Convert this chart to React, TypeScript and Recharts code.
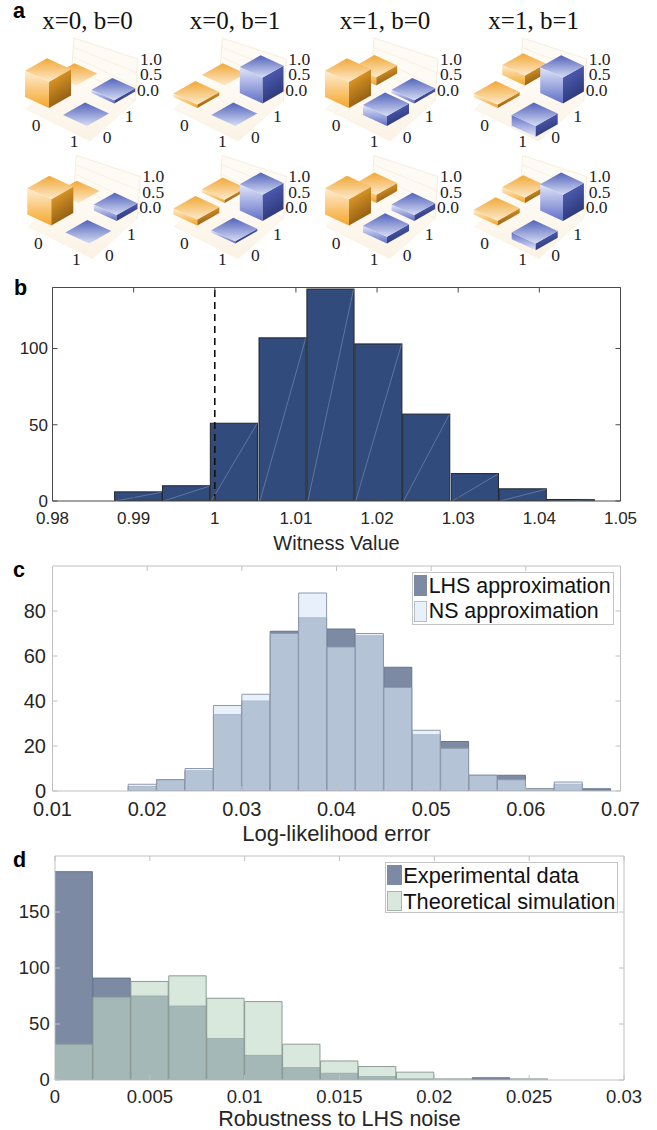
import React from "react";
import {
  ComposedChart,
  ScatterChart,
  Scatter,
  Bar,
  XAxis,
  YAxis,
  ReferenceLine,
} from "recharts";

// ---------- panel a ----------
const panelTitles = ["x=0, b=0", "x=0, b=1", "x=1, b=0", "x=1, b=1"];
// each cell list is ordered as [00, 01, 10, 11]
const topRowCells = [
  [0.97, 0, 0, 0.12],
  [0.13, 0, 0, 0.96],
  [0.97, 0.3, 0.37, 0.12],
  [0.13, 0.37, -0.4, 0.96],
];
const bottomRowCells = [
  [0.97, 0, 0, 0.22],
  [0.22, 0.12, 0.08, 0.97],
  [0.97, 0.3, 0.25, 0.22],
  [0.18, 0.2, -0.25, 0.97],
];
const zTickLabels = ["1.0", "0.5", "0.0"];
const cellLabels = ["0", "1"];

// ---------- panel b ----------
const witnessCenters = [0.9906, 0.9965, 1.0024, 1.0084, 1.0143, 1.0202, 1.0261, 1.0321, 1.038, 1.0439];
const witnessCounts = [6, 10, 51, 107, 139, 103, 57, 18, 8, 1];
const witnessTicks = [0.98, 0.99, 1, 1.01, 1.02, 1.03, 1.04, 1.05];
const witnessYTicks = [0, 50, 100];

// ---------- panel c ----------
const errorCenters = [0.0195, 0.0225, 0.0255, 0.0285, 0.0315, 0.0345, 0.0375, 0.0405, 0.0435, 0.0465, 0.0495, 0.0525, 0.0555, 0.0585, 0.0615, 0.0645, 0.0675];
const lhsCounts = [2, 5, 9, 34, 40, 71, 77, 72, 69, 55, 25, 22, 7, 7, 1, 3, 1];
const nsCounts = [3, 5, 10, 38, 43, 70, 88, 64, 70, 46, 27, 19, 7, 5, 1, 4, 0];
const errorTicks = [0.01, 0.02, 0.03, 0.04, 0.05, 0.06, 0.07];
const errorYTicks = [0, 20, 40, 60, 80];

// ---------- panel d ----------
const noiseCenters = [0.001, 0.003, 0.005, 0.007, 0.009, 0.011, 0.013, 0.015, 0.017, 0.019, 0.021, 0.023, 0.025];
const experimentCounts = [186, 91, 75, 66, 37, 22, 11, 6, 3, 1, 0, 2, 0];
const simulationCounts = [32, 74, 88, 93, 73, 70, 32, 17, 12, 7, 1, 0, 1];
const noiseTicks = [0, 0.005, 0.01, 0.015, 0.02, 0.025, 0.03];
const noiseYTicks = [0, 50, 100, 150];

const SANS = "'Liberation Sans', Arial, sans-serif";
const SERIF = "'Liberation Serif', 'Times New Roman', serif";
const W = 657;

// ---------- 3D drawing for panel a ----------
const PX_PER_UNIT = 27;
const colOrigin = [
  [25, 173.3, 325, 473.7],
  [27.3, 173.3, 325, 473.7],
];
const rowBase = [97, 214.5];
const titleCenters = [87.5, 235, 385, 533.7];
const stepI = [38, 18];
const stepJ = [28.5, -22];
const drawOrder = [1, 3, 0, 2];

const frameData = [topRowCells, bottomRowCells].flatMap((_, row) =>
  panelTitles.map((title, col) => ({
    gx: colOrigin[row][col],
    gy: rowBase[row],
    title: row === 0 ? title : "",
    titleX: titleCenters[col],
  }))
);

const cellData = [topRowCells, bottomRowCells].flatMap((rows, row) =>
  rows.flatMap((cells, col) =>
    drawOrder.map((k) => {
      const i = k >> 1;
      const j = k & 1;
      return {
        gx: colOrigin[row][col] + i * stepI[0] + j * stepJ[0],
        gy: rowBase[row] + i * stepI[1] + j * stepJ[1],
        h: cells[k],
        orange: i === 0,
        far: j === 1,
      };
    })
  )
);

const poly = (pts: number[][]) => pts.map((p) => p.join(",")).join(" ");

const FrameShape = (props: any) => {
  const { cx, cy, payload } = props;
  const at = (dx: number, dy: number) => [cx + dx, cy + dy];
  const wallA = at(49, -59), wallB = at(113, -38), wallC = at(110, 4), wallD = at(47, -31);
  const fL = at(1, 12), fF = at(65, 44), fR = at(110, 4), fB = at(47, -31);
  const numStyle: any = { fontFamily: SERIF, fontSize: 17.5, fill: "#222" };
  return (
    <g>
      <polygon points={poly([wallA, wallB, wallC, wallD])} fill="#fefaf4" stroke="#f5e8d4" strokeWidth={0.8} />
      {[0.33, 0.66].map((t) => (
        <line
          key={t}
          x1={wallA[0] + (wallD[0] - wallA[0]) * t}
          y1={wallA[1] + (wallD[1] - wallA[1]) * t}
          x2={wallB[0] + (wallC[0] - wallB[0]) * t}
          y2={wallB[1] + (wallC[1] - wallB[1]) * t}
          stroke="#f8eedf"
          strokeWidth={0.8}
        />
      ))}
      <polygon points={poly([fL, fF, fR, fB])} fill="url(#floorFill)" stroke="#f8eedd" strokeWidth={0.6} />
      {zTickLabels.map((t, n) => (
        <text key={t} x={cx + 115 - (n === 2 ? 3 : 0)} y={cy - 38 + n * 15.5 + 5.5} {...numStyle}>
          {t}
        </text>
      ))}
      <text x={cx + 11} y={cy + 34} textAnchor="middle" {...numStyle}>{cellLabels[0]}</text>
      <text x={cx + 49} y={cy + 50} textAnchor="middle" {...numStyle}>{cellLabels[1]}</text>
      <text x={cx + 82} y={cy + 46} textAnchor="middle" {...numStyle}>{cellLabels[0]}</text>
      <text x={cx + 104} y={cy + 25} textAnchor="middle" {...numStyle}>{cellLabels[1]}</text>
      {payload.title ? (
        <text x={payload.titleX} y={29} textAnchor="middle" fontFamily={SERIF} fontSize={25} fill="#111">
          {payload.title}
        </text>
      ) : null}
    </g>
  );
};

const CellShape = (props: any) => {
  const { cx, cy, payload } = props;
  const h: number = payload.h;
  const topZ = cy - PX_PER_UNIT * Math.max(h, 0);
  const botZ = cy - PX_PER_UNIT * Math.min(h, 0);
  const c = payload.orange ? "o" : "b";
  const k = payload.far ? 0.95 : 1;
  const u = [24 * k, 11 * k];
  const v = [22 * k, -12.5 * k];
  const L = [cx, topZ];
  const F = [cx + u[0], topZ + u[1]];
  const B = [cx + v[0], topZ + v[1]];
  const R = [cx + u[0] + v[0], topZ + u[1] + v[1]];
  const Lb = [cx, botZ];
  const Fb = [cx + u[0], botZ + u[1]];
  const Rb = [cx + u[0] + v[0], botZ + u[1] + v[1]];
  return (
    <g>
      {botZ > topZ ? (
        <>
          <polygon points={poly([L, F, Fb, Lb])} fill={`url(#${c}Left${h < 0 ? "Neg" : ""})`} />
          <polygon points={poly([F, R, Rb, Fb])} fill={`url(#${c}Right)`} />
        </>
      ) : null}
      <polygon points={poly([L, F, R, B])} fill={`url(#${c}Top)`} />
    </g>
  );
};

const Grad = ({ id, from, to, x2 = 0 }: { id: string; from: string; to: string; x2?: number }) => (
  <linearGradient id={id} x1="0" y1="0" x2={x2} y2="1">
    <stop offset="0%" stopColor={from} />
    <stop offset="100%" stopColor={to} />
  </linearGradient>
);

const PanelA = () => (
  <div style={{ position: "absolute", left: 0, top: 0 }}>
    <ScatterChart width={W} height={270} margin={{ top: 0, right: 0, bottom: 0, left: 0 }}>
      <defs>
        <Grad id="floorFill" from="#fffdf9" to="#fbf2e4" />
        <Grad id="oTop" from="#f1a838" to="#fdeacb" />
        <Grad id="oLeft" from="#ffedd2" to="#f4a62a" />
        <Grad id="oLeftNeg" from="#f4a62a" to="#ffedd2" />
        <Grad id="oRight" from="#f6ab2d" to="#8c5a12" x2={0.4} />
        <Grad id="bTop" from="#5263ba" to="#d6dcf5" />
        <Grad id="bLeft" from="#e2e6f9" to="#6070c8" />
        <Grad id="bLeftNeg" from="#6070c8" to="#e2e6f9" />
        <Grad id="bRight" from="#5868c4" to="#2b3675" x2={0.4} />
      </defs>
      <XAxis type="number" dataKey="gx" domain={[0, W]} hide />
      <YAxis type="number" dataKey="gy" domain={[0, 270]} reversed hide />
      <Scatter data={frameData} shape={FrameShape} isAnimationActive={false} />
      <Scatter data={cellData} shape={CellShape} isAnimationActive={false} />
    </ScatterChart>
  </div>
);

// ---------- histograms ----------
type HistProps = {
  top: number;
  height: number;
  plotTop: number;
  plotBottom: number;
  left: number;
  right: number;
  xDomain: number[];
  xTicks: number[];
  yDomain: number[];
  yTicks: number[];
  binWidth: number;
  data: any[];
  fontSize: number;
  labelSize: number;
  label: string;
  labelOffset: number;
  xBaseline: number;
  yLabelEnd: number;
  tickLen: number;
  frame: string;
  tickColor: string;
  first: any;
  second?: any;
  children?: React.ReactNode;
};

const DiagonalBar = (props: any) => {
  const { x, y, width, height, fill, stroke } = props;
  if (!(height > 0)) return null;
  return (
    <g>
      <rect x={x} y={y} width={width} height={height} fill={fill} stroke={stroke} strokeWidth={1} />
      <line x1={x + 1} y1={y + height} x2={x + width - 0.5} y2={y + 0.5} stroke="#7e92b8" strokeWidth={0.6} />
    </g>
  );
};

const Histogram = (p: HistProps) => {
  const plotW = p.right - p.left;
  const barW = ((plotW * p.binWidth) / (p.xDomain[1] - p.xDomain[0])) * 0.985;
  const topPx = p.plotTop - p.top;
  const botPx = p.plotBottom - p.top;
  const textStyle: any = { fontFamily: SANS, fontSize: p.fontSize, fill: "#262626" };
  const lineStyle = { stroke: p.tickColor, strokeWidth: 1 };

  const bottomTick = (t: any) => (
    <g>
      <line x1={t.payload.coordinate} x2={t.payload.coordinate} y1={botPx - p.tickLen} y2={botPx} {...lineStyle} />
      <text x={t.payload.coordinate} y={botPx + p.xBaseline} textAnchor="middle" {...textStyle}>
        {String(t.payload.value)}
      </text>
    </g>
  );
  const topTick = (t: any) => (
    <line x1={t.payload.coordinate} x2={t.payload.coordinate} y1={topPx} y2={topPx + p.tickLen} {...lineStyle} />
  );
  const leftTick = (t: any) => (
    <g>
      <line x1={p.left} x2={p.left + p.tickLen} y1={t.payload.coordinate} y2={t.payload.coordinate} {...lineStyle} />
      <text x={p.yLabelEnd} y={t.payload.coordinate} dy="0.35em" textAnchor="end" {...textStyle}>
        {String(t.payload.value)}
      </text>
    </g>
  );
  const rightTick = (t: any) => (
    <line x1={p.right - p.tickLen} x2={p.right} y1={t.payload.coordinate} y2={t.payload.coordinate} {...lineStyle} />
  );

  const axisCommon = {
    type: "number" as const,
    dataKey: "x",
    domain: p.xDomain,
    ticks: p.xTicks,
    interval: 0 as const,
    allowDataOverflow: true,
    tickLine: false,
    tickSize: 0,
    axisLine: { stroke: p.frame },
  };
  const yCommon = {
    type: "number" as const,
    domain: p.yDomain,
    ticks: p.yTicks,
    interval: 0 as const,
    allowDataOverflow: true,
    tickLine: false,
    tickSize: 0,
    axisLine: { stroke: p.frame },
  };
  return (
    <div style={{ position: "absolute", left: 0, top: p.top }}>
      <ComposedChart
        width={W}
        height={p.height}
        data={p.data}
        margin={{ top: topPx - 1, right: W - p.right - 1, bottom: 0, left: 0 }}
      >
        <XAxis
          {...axisCommon}
          xAxisId="bottom"
          orientation="bottom"
          height={p.top + p.height - p.plotBottom}
          tick={bottomTick}
          label={{
            value: p.label,
            position: "insideBottom",
            offset: p.labelOffset,
            style: { fontFamily: SANS, fontSize: p.labelSize, fill: "#262626" },
          }}
        />
        <XAxis {...axisCommon} xAxisId="top" orientation="top" height={1} tick={topTick} />
        <YAxis {...yCommon} yAxisId="left" orientation="left" width={p.left} tick={leftTick} />
        <YAxis {...yCommon} yAxisId="right" orientation="right" width={1} tick={rightTick} />
        <Bar
          xAxisId="bottom"
          yAxisId="left"
          dataKey={p.first.key}
          barSize={barW}
          fill={p.first.fill}
          stroke={p.first.stroke}
          shape={p.first.shape}
          isAnimationActive={false}
        />
        {p.second ? (
          <Bar
            xAxisId="top"
            yAxisId="left"
            dataKey={p.second.key}
            barSize={barW}
            fill={p.second.fill}
            fillOpacity={p.second.opacity}
            stroke={p.second.stroke}
            isAnimationActive={false}
          />
        ) : null}
        {p.children}
      </ComposedChart>
    </div>
  );
};

const LegendBox = ({
  box,
  fontSize,
  items,
}: {
  box: number[];
  fontSize: number;
  items: { label: string; fill: string; stroke: string; sx: number; sw: number; sy: number; sh: number; tx: number; base: number }[];
}) => (
  <div
    style={{
      position: "absolute",
      left: box[0],
      top: box[1],
      width: box[2] - box[0],
      height: box[3] - box[1],
      border: "1px solid #c4c4c4",
      boxSizing: "border-box",
      background: "#fff",
    }}
  >
    {items.map((it) => (
      <React.Fragment key={it.label}>
        <div
          style={{
            position: "absolute",
            left: it.sx - box[0] - 1,
            top: it.sy - box[1] - 1,
            width: it.sw,
            height: it.sh,
            background: it.fill,
            border: `1px solid ${it.stroke}`,
            boxSizing: "border-box",
          }}
        />
        <div
          style={{
            position: "absolute",
            left: it.tx - box[0] - 1,
            top: it.base - box[1] - 1 - fontSize,
            fontFamily: SANS,
            fontSize,
            lineHeight: `${fontSize * 1.15}px`,
            color: "#111",
            whiteSpace: "nowrap",
          }}
        >
          {it.label}
        </div>
      </React.Fragment>
    ))}
  </div>
);

const Letter = ({ ch, x, base }: { ch: string; x: number; base: number }) => (
  <div
    style={{
      position: "absolute",
      left: x,
      top: base - 15,
      fontFamily: SANS,
      fontWeight: 700,
      fontSize: 21.5,
      lineHeight: "16px",
      color: "#000",
    }}
  >
    {ch}
  </div>
);

const witnessData = witnessCenters.map((x, i) => ({ x, count: witnessCounts[i] }));
const errorData = errorCenters.map((x, i) => ({ x, lhs: lhsCounts[i], ns: nsCounts[i] }));
const noiseData = noiseCenters.map((x, i) => ({ x, experiment: experimentCounts[i], simulation: simulationCounts[i] }));

export default function App() {
  return (
    <div style={{ position: "absolute", left: 0, top: 0, width: W, height: 1130, background: "#fff", overflow: "hidden" }}>
      <PanelA />
      <Histogram
        top={270}
        height={290}
        plotTop={287.5}
        plotBottom={501}
        left={52.5}
        right={620.5}
        xDomain={[0.98, 1.05]}
        xTicks={witnessTicks}
        yDomain={[0, 140]}
        yTicks={witnessYTicks}
        binWidth={0.0059}
        data={witnessData}
        fontSize={17}
        labelSize={20}
        label="Witness Value"
        labelOffset={10}
        xBaseline={23.3}
        yLabelEnd={48}
        tickLen={5}
        frame="#4a4a4a"
        tickColor="#4a4a4a"
        first={{ key: "count", fill: "#314b7c", stroke: "#23272e", shape: DiagonalBar }}
      >
        <ReferenceLine xAxisId="bottom" yAxisId="left" x={1} stroke="#111" strokeWidth={1.6} strokeDasharray="7 5" />
      </Histogram>
      <Histogram
        top={560}
        height={290}
        plotTop={566}
        plotBottom={791}
        left={52.5}
        right={620.5}
        xDomain={[0.01, 0.07]}
        xTicks={errorTicks}
        yDomain={[0, 100]}
        yTicks={errorYTicks}
        binWidth={0.003}
        data={errorData}
        fontSize={20}
        labelSize={22}
        label="Log-likelihood error"
        labelOffset={9}
        xBaseline={24.7}
        yLabelEnd={46}
        tickLen={5}
        frame="#c0c0c0"
        tickColor="#c0c0c0"
        first={{ key: "lhs", fill: "#7c8aa3", stroke: "#66748f" }}
        second={{ key: "ns", fill: "#d9e8f8", opacity: 0.61, stroke: "#8e99aa" }}
      />
      <Histogram
        top={845}
        height={285}
        plotTop={856}
        plotBottom={1080}
        left={55}
        right={624}
        xDomain={[0, 0.03]}
        xTicks={noiseTicks}
        yDomain={[0, 200]}
        yTicks={noiseYTicks}
        binWidth={0.002}
        data={noiseData}
        fontSize={18.5}
        labelSize={21.5}
        label="Robustness to LHS noise"
        labelOffset={4}
        xBaseline={23}
        yLabelEnd={49.7}
        tickLen={5}
        frame="#c0c0c0"
        tickColor="#c0c0c0"
        first={{ key: "experiment", fill: "#7c8aa3", stroke: "#66748f" }}
        second={{ key: "simulation", fill: "#c0d9c5", opacity: 0.6, stroke: "#8c9c94" }}
      />
      <LegendBox
        box={[412.3, 572.3, 614.3, 625.3]}
        fontSize={21.4}
        items={[
          { label: "LHS approximation", fill: "#7c8aa3", stroke: "#7c8aa3", sx: 414.3, sw: 12.4, sy: 575, sh: 21, tx: 428.7, base: 595.5 },
          { label: "NS approximation", fill: "#e8f1fb", stroke: "#b9bec6", sx: 414.3, sw: 12.4, sy: 600.7, sh: 21.3, tx: 428.7, base: 620.8 },
        ]}
      />
      <LegendBox
        box={[385.3, 862.3, 617.7, 913.3]}
        fontSize={21.8}
        items={[
          { label: "Experimental data", fill: "#7c8aa3", stroke: "#7c8aa3", sx: 387.3, sw: 14.4, sy: 865, sh: 20.3, tx: 403.3, base: 885.3 },
          { label: "Theoretical simulation", fill: "#d9e8dc", stroke: "#aab5ad", sx: 387.3, sw: 14.4, sy: 890.7, sh: 20, tx: 403.3, base: 910.7 },
        ]}
      />
      <Letter ch="a" x={13} base={18} />
      <Letter ch="b" x={14} base={295} />
      <Letter ch="c" x={13} base={577} />
      <Letter ch="d" x={13} base={867} />
    </div>
  );
}
